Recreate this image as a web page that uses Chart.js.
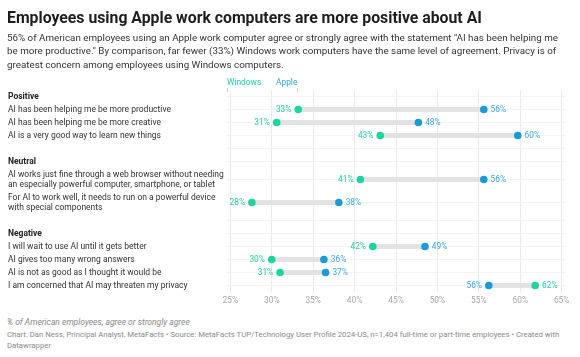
<!DOCTYPE html>
<html>
<head>
<meta charset="utf-8">
<script src="https://cdn.jsdelivr.net/npm/chart.js@4.4.1/dist/chart.umd.min.js"></script>
<style>
  html, body { margin: 0; padding: 0; background: #fff; }
  body { width: 580px; height: 357px; position: relative; overflow: hidden; font-family: Roboto, "Liberation Sans", sans-serif; }
  .t { position: absolute; white-space: nowrap; }
  #title { left: 7px; top: 8px; font-size: 15.8px; font-weight: 700; line-height: 20px; color: #1d1d1d; }
  #desc { left: 7px; top: 30.5px; font-size: 9.8px; line-height: 13.6px; color: #333; }
  #legW { left: 227px; top: 76px; font-size: 8.4px; line-height: 12px; color: #22cf9d; }
  #legA { left: 276px; top: 76px; font-size: 8.4px; line-height: 12px; color: #2ea6dd; }
  .lt { position: absolute; width: 1px; height: 4px; top: 88px; background: #c8c8c8; }
  #note { left: 7px; top: 316px; font-size: 8.5px; line-height: 12px; color: #888; font-style: italic; }
  #credit { left: 7px; top: 330px; font-size: 7.75px; line-height: 10.5px; color: #8a8a8a; }
  canvas { position: absolute; left: 0; top: 0; }
</style>
</head>
<body>
<canvas id="c" width="580" height="310"></canvas>
<div class="t" id="title">Employees using Apple work computers are more positive about AI</div>
<div class="t" id="desc">56% of American employees using an Apple work computer agree or strongly agree with the statement "AI has been helping me<br>be more productive." By comparison, far fewer (33%) Windows work computers have the same level of agreement. Privacy is of<br>greatest concern among employees using Windows computers.</div>
<div class="t" id="legW">Windows</div>
<div class="t" id="legA">Apple</div>
<div class="lt" style="left:227px"></div>
<div class="lt" style="left:297px"></div>
<div class="t" id="note">% of American employees, agree or strongly agree</div>
<div class="t" id="credit">Chart: Dan Ness, Principal Analyst, MetaFacts • Source: MetaFacts TUP/Technology User Profile 2024-US, n=1,404 full-time or part-time employees • Created with<br>Datawrapper</div>
<script>
// ---- data ----
const groups = ['Positive', 'Neutral', 'Negative'];
const statements = [
  ['AI has been helping me be more productive'],
  ['AI has been helping me be more creative'],
  ['AI is a very good way to learn new things'],
  ['AI works just fine through a web browser without needing', 'an especially powerful computer, smartphone, or tablet'],
  ['For AI to work well, it needs to run on a powerful device', 'with special components'],
  ['I will wait to use AI until it gets better'],
  ['AI gives too many wrong answers'],
  ['AI is not as good as I thought it would be'],
  ['I am concerned that AI may threaten my privacy']
];
const statementGroup = [0, 0, 0, 1, 1, 2, 2, 2, 2];
const windowsPct = [33.2, 30.6, 43.1, 40.7, 27.6, 42.2, 30.0, 31.0, 61.8];
const applePct   = [55.6, 47.7, 59.7, 55.6, 38.1, 48.5, 36.3, 36.5, 56.2];
const xTickValues = [25, 30, 35, 40, 45, 50, 55, 60, 65];
const seriesNames = ['Windows', 'Apple'];

// ---- styling ----
const WIN = '#1dd3a0', APP = '#1a9ad6';
const WIN_TXT = '#24cc9c', APP_TXT = '#33a8de';
const FONT = 'Roboto';
const DOUBLE = 23 / 13;

// ---- row layout (derived from label line counts) ----
const rows = [];
let cursor = 0;
function addRow(label, kind, idx) {
  const h = (Array.isArray(label) && label.length > 1) ? DOUBLE : 1;
  rows.push({ label, kind, idx, pos: cursor + h / 2 });
  cursor += h;
}
groups.forEach((g, gi) => {
  addRow(g, 'header', -1);
  statements.forEach((s, si) => { if (statementGroup[si] === gi) addRow(s.length > 1 ? s : s[0], 'item', si); });
  if (gi < groups.length - 1) addRow('', 'blank', -1);
});
const total = cursor;
const posOf = [];
rows.forEach(r => { if (r.kind === 'item') posOf[r.idx] = r.pos; });

const rangeData = statements.map((s, i) => ({ y: posOf[i], x: [Math.min(windowsPct[i], applePct[i]), Math.max(windowsPct[i], applePct[i])] }));
const winPts = statements.map((s, i) => ({ x: windowsPct[i], y: posOf[i] }));
const appPts = statements.map((s, i) => ({ x: applePct[i], y: posOf[i] }));

const valueLabels = {
  id: 'valueLabels',
  afterDatasetsDraw(chart) {
    const { ctx, scales: { x, y } } = chart;
    ctx.save();
    ctx.font = '8.4px ' + FONT;
    ctx.textBaseline = 'middle';
    statements.forEach((s, i) => {
      const yy = y.getPixelForValue(posOf[i]);
      const w = windowsPct[i], a = applePct[i];
      const xw = x.getPixelForValue(w), xa = x.getPixelForValue(a);
      const wLeft = w < a;
      ctx.fillStyle = WIN_TXT;
      ctx.textAlign = wLeft ? 'right' : 'left';
      ctx.fillText(Math.round(w) + '%', wLeft ? xw - 6.8 : xw + 6.8, yy);
      ctx.fillStyle = APP_TXT;
      ctx.textAlign = wLeft ? 'left' : 'right';
      ctx.fillText(Math.round(a) + '%', wLeft ? xa + 6.8 : xa - 6.8, yy);
    });
    ctx.restore();
  }
};

new Chart(document.getElementById('c'), {
  type: 'bar',
  data: {
    datasets: [
      { type: 'bar', label: 'range', indexAxis: 'y', data: rangeData, backgroundColor: '#e3e3e3', barThickness: 4.5, borderSkipped: false, order: 3 },
      { type: 'scatter', label: seriesNames[0], data: winPts, backgroundColor: WIN, borderWidth: 0, pointRadius: 3.8, order: 1 },
      { type: 'scatter', label: seriesNames[1], data: appPts, backgroundColor: APP, borderWidth: 0, pointRadius: 3.8, order: 1 }
    ]
  },
  options: {
    responsive: false,
    animation: false,
    events: [],
    layout: { padding: { left: 8, right: 15, top: 90, bottom: 0 } },
    plugins: { legend: { display: false }, tooltip: { enabled: false } },
    scales: {
      x: {
        type: 'linear', position: 'bottom', min: 24.6, max: 65.4, offset: false,
        afterBuildTicks: s => { s.ticks = xTickValues.map(v => ({ value: v })); },
        afterFit: s => { s.height = 18; },
        ticks: { callback: v => v + '%', color: '#a8a8a8', font: { family: FONT, size: 8.4 }, padding: 4, autoSkip: false, maxRotation: 0 },
        grid: { color: '#eaeaea', drawTicks: false, offset: false },
        border: { display: false }
      },
      y: {
        type: 'linear', position: 'left', reverse: true, min: 0, max: total, offset: false,
        afterBuildTicks: s => { s.ticks = rows.map(r => ({ value: r.pos })); },
        afterFit: s => { s.width = 219; },
        ticks: {
          autoSkip: false,
          crossAlign: 'far',
          callback: (v, i) => rows[i] ? rows[i].label : '',
          color: c => (rows[c.index] && rows[c.index].kind === 'header') ? '#222' : '#333',
          font: c => ({ family: FONT, size: 8.5, lineHeight: 1.2, weight: (rows[c.index] && rows[c.index].kind === 'header') ? 'bold' : 'normal' })
        },
        grid: { color: '#f3f3f3', drawTicks: false, offset: false },
        border: { display: false }
      }
    }
  },
  plugins: [valueLabels]
});
</script>
</body>
</html>
